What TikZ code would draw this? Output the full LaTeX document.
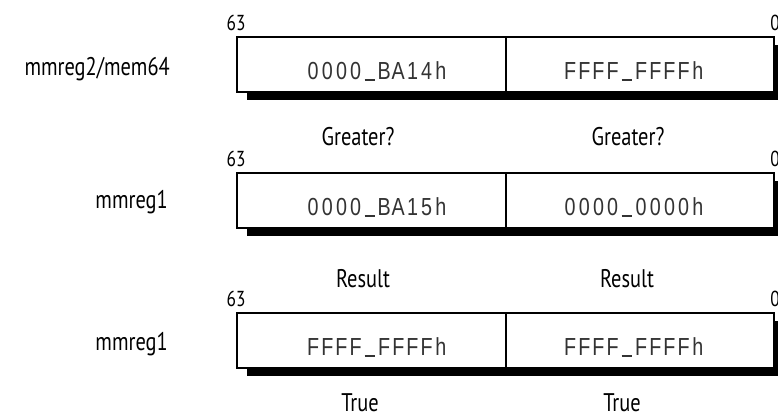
\documentclass[tikz,border=0pt]{standalone}
\usepackage{fontspec}
\usepackage{graphicx}
\setmainfont{PT Sans}
\newfontfamily\hexfont{Liberation Sans}
\usetikzlibrary{shadows}
\newcommand\us{\rule[-1.2pt]{10pt}{0.9pt}}
\newcommand\hexchars[1]{\hexloop#1\relax}
\def\hexloop#1{\ifx#1\relax\else\makebox[10.65pt][c]{\scalebox{0.8}[1]{#1}}\expandafter\hexloop\fi}
\newcommand\tallsans[1]{\scalebox{1}[1.25]{#1}}
\begin{document}
\begin{tikzpicture}[x=0.75pt,y=-0.75pt,
  regbox/.style={draw=black, line width=1.5pt, fill=white,
    minimum width=402.75pt, minimum height=41.25pt, inner sep=0pt,
    general shadow={fill=black, shadow xshift=7.5pt, shadow yshift=-6pt}},
  divider/.style={draw=black, line width=1.5pt},
  hexlabel/.style={anchor=base, inner sep=0pt,
    font=\hexfont\fontsize{18.5}{20}\selectfont, text=black!80},
  lbl/.style={anchor=base, inner sep=0pt, font=\fontsize{15.3}{18}\selectfont},
  reglbl/.style={anchor=base east, inner sep=0pt, font=\fontsize{15.3}{18}\selectfont},
  bitno/.style={anchor=base, inner sep=0pt, font=\fontsize{13}{15}\selectfont}]
\useasboundingbox (0,0) rectangle (778,419);

% row 1
\node[regbox] (r1) at (505.5,64.5) {};
\draw[divider] (r1.north) -- (r1.south);
\node[hexlabel] (r1a) at (377,79) {\hexchars{0000\us BA14h}};
\node[hexlabel] (r1b) at (634,79) {\hexchars{FFFF\us FFFFh}};
\node[bitno] (r1h) at (236,30) {\tallsans{63}};
\node[bitno] (r1l) at (775,30) {\tallsans{0}};
\node[reglbl] (n1) at (170,75) {\tallsans{mmreg2/mem64}};
\node[lbl] (g1) at (358,145) {\tallsans{Greater?}};
\node[lbl] (g2) at (628,145) {\tallsans{Greater?}};

% row 2
\node[regbox] (r2) at (505.5,200.5) {};
\draw[divider] (r2.north) -- (r2.south);
\node[hexlabel] (r2a) at (377,215) {\hexchars{0000\us BA15h}};
\node[hexlabel] (r2b) at (634,215) {\hexchars{0000\us 0000h}};
\node[bitno] (r2h) at (236,166) {\tallsans{63}};
\node[bitno] (r2l) at (775,166) {\tallsans{0}};
\node[reglbl] (n2) at (168,208) {\tallsans{mmreg1}};
\node[lbl] (s1) at (363,287) {\tallsans{Result}};
\node[lbl] (s2) at (627,287) {\tallsans{Result}};

% row 3
\node[regbox] (r3) at (505.5,340.5) {};
\draw[divider] (r3.north) -- (r3.south);
\node[hexlabel] (r3a) at (377,355) {\hexchars{FFFF\us FFFFh}};
\node[hexlabel] (r3b) at (634,355) {\hexchars{FFFF\us FFFFh}};
\node[bitno] (r3h) at (236,306) {\tallsans{63}};
\node[bitno] (r3l) at (775,306) {\tallsans{0}};
\node[reglbl] (n3) at (168,350) {\tallsans{mmreg1}};
\node[lbl] (t1) at (360,411) {\tallsans{True}};
\node[lbl] (t2) at (622,411) {\tallsans{True}};
\end{tikzpicture}
\end{document}
